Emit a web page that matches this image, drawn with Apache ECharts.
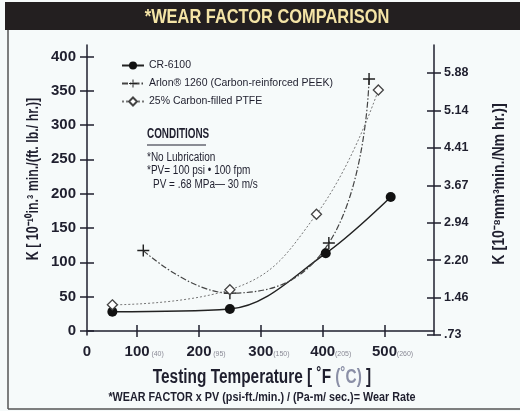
<!DOCTYPE html>
<html>
<head>
<meta charset="utf-8">
<script src="https://cdn.jsdelivr.net/npm/echarts@6/dist/echarts.min.js"></script>
<style>
  html, body { margin: 0; padding: 0; background: #f6fafa; }
  #chart { width: 520px; height: 411px; }
</style>
</head>
<body>
<div id="chart"></div>
<script>
// --- data ---
var crTemps = [60, 250, 405, 510];
var crK = [28, 32, 113, 195];
var arlonTemps = [110, 250, 410, 475];
var arlonK = [117, 55, 128, 367];
var ptfeTemps = [60, 250, 390, 490];
var ptfeK = [38, 60, 170, 351];

var seriesNames = ['CR-6100', 'Arlon® 1260 (Carbon-reinforced PEEK)', '25% Carbon-filled PTFE'];
var xTicks = [100, 200, 300, 400, 500];
var xCelsius = ['40', '95', '150', '205', '260'];
var yTicks = [0, 50, 100, 150, 200, 250, 300, 350, 400];
var rightTicks = [0.73, 1.46, 2.20, 2.94, 3.67, 4.41, 5.14, 5.88];
var rightLabels = ['.73', '1.46', '2.20', '2.94', '3.67', '4.41', '5.14', '5.88'];

var FONT = "'Liberation Sans', Arial, sans-serif";
var INK = '#1f1f2e';
var xMin = 19, xMax = 580;

function pairs(xs, ys) {
  return xs.map(function (x, i) { return [x, ys[i]]; });
}

var myChart = echarts.init(document.getElementById('chart'));

var axisLine = { show: true, lineStyle: { color: INK, width: 1.5 } };

function xLabel(v) {
  if (v === xMin) return '{n|0}';
  var i = xTicks.indexOf(v);
  return '{p|}{n|' + v + '}{c|(' + xCelsius[i] + ')}';
}

// condensed text via graphic scaleX (no condensed fonts installed)
function txt(x, y, s, font, opts) {
  opts = opts || {};
  return {
    type: 'text', x: x, y: y,
    rotation: opts.rotation || 0,
    scaleX: opts.scaleX || 0.82,
    style: {
      text: s, fill: opts.fill || INK, font: font,
      align: opts.align || 'left', verticalAlign: 'middle',
      rich: opts.rich
    }
  };
}

var option = {
  backgroundColor: '#f6fafa',
  animation: false,
  grid: { left: 87, right: 86, top: 45, bottom: 76 },
  legend: {
    orient: 'vertical',
    left: 116,
    top: 55,
    itemWidth: 22,
    itemHeight: 10,
    itemGap: 7,
    data: seriesNames,
    textStyle: { fontFamily: FONT, fontSize: 10.5, color: INK }
  },
  xAxis: [
    {
      type: 'value', min: xMin, max: xMax,
      axisLine: axisLine,
      axisTick: { show: true, length: 6, customValues: xTicks, lineStyle: { color: INK, width: 1.5 } },
      axisLabel: {
        customValues: [xMin].concat(xTicks),
        margin: 9,
        formatter: xLabel,
        rich: {
          p: { width: 16 },
          n: { fontFamily: FONT, fontSize: 15, fontWeight: 'bold', color: INK },
          c: { fontFamily: FONT, fontSize: 7, color: '#8a8a96', width: 16, align: 'left', padding: [5, 0, 0, 0] }
        }
      },
      splitLine: { show: false }
    },
    {
      type: 'value', min: xMin, max: xMax, position: 'bottom',
      axisLine: { show: false },
      axisTick: { show: true, inside: true, length: 6, customValues: xTicks, lineStyle: { color: INK, width: 1.5 } },
      axisLabel: { show: false },
      splitLine: { show: false }
    }
  ],
  yAxis: [
    {
      type: 'value', min: -6, max: 416.6, position: 'left',
      axisLine: axisLine,
      axisTick: { show: true, length: 7, customValues: yTicks, lineStyle: { color: INK, width: 1.5 } },
      axisLabel: {
        customValues: yTicks, margin: 11,
        fontFamily: FONT, fontSize: 15, fontWeight: 'bold', color: INK
      },
      splitLine: { show: false }
    },
    {
      type: 'value', min: -6, max: 416.6, position: 'left',
      axisLine: { show: false },
      axisTick: { show: true, inside: true, length: 7, customValues: yTicks, lineStyle: { color: INK, width: 1.5 } },
      axisLabel: { show: false },
      splitLine: { show: false }
    },
    {
      type: 'value', min: 0.73, max: 6.43, position: 'right',
      axisLine: axisLine,
      axisTick: { show: true, length: 7, customValues: rightTicks, lineStyle: { color: INK, width: 1.5 } },
      axisLabel: {
        customValues: rightTicks, margin: 10,
        fontFamily: FONT, fontSize: 12.5, fontWeight: 'bold', color: INK,
        formatter: function (v) {
          var i = rightTicks.indexOf(v);
          return i >= 0 ? rightLabels[i] : '';
        }
      },
      splitLine: { show: false }
    },
    {
      type: 'value', min: 0.73, max: 6.43, position: 'right',
      axisLine: { show: false },
      axisTick: { show: true, inside: true, length: 7, customValues: rightTicks, lineStyle: { color: INK, width: 1.5 } },
      axisLabel: { show: false },
      splitLine: { show: false }
    }
  ],
  graphic: [
    // frame + title bar
    { type: 'line', shape: { x1: 8, y1: 30, x2: 8, y2: 409 }, style: { stroke: '#555', lineWidth: 1.5 } },
    { type: 'line', shape: { x1: 8, y1: 409, x2: 520, y2: 409 }, style: { stroke: '#555', lineWidth: 1.5 } },
    { type: 'rect', shape: { x: 5, y: 2, width: 515, height: 28 }, style: { fill: '#231f20' } },
    txt(267, 17, '*WEAR FACTOR COMPARISON', 'bold 20px ' + FONT, { align: 'center', fill: '#f4e4a6', scaleX: 0.82 }),
    // axis names
    txt(34, 179, 'K [ 10⁻¹⁰in.³ min./(ft. lb./ hr.)]', 'bold 16px ' + FONT, { align: 'center', rotation: Math.PI / 2, scaleX: 0.78 }),
    txt(500, 184, 'K [10⁻⁸mm³min./Nm hr.)]', 'bold 16px ' + FONT, { align: 'center', rotation: Math.PI / 2, scaleX: 0.88 }),
    txt(262, 377, '{a|Testing Temperature [ ˚F }{b|(˚C)}{a| ]}', 'bold 20px ' + FONT, {
      align: 'center', scaleX: 0.77,
      rich: {
        a: { font: 'bold 20px ' + FONT, fill: INK },
        b: { font: 'bold 20px ' + FONT, fill: '#8a8fa6' }
      }
    }),
    txt(262, 398, '*WEAR FACTOR x PV (psi-ft./min.) / (Pa-m/ sec.)= Wear Rate', 'bold 12px ' + FONT, { align: 'center', scaleX: 0.9 }),
    // conditions block
    txt(147, 134, 'CONDITIONS', 'bold 15px ' + FONT, { scaleX: 0.66 }),
    { type: 'line', shape: { x1: 147, y1: 145, x2: 206, y2: 145 }, style: { stroke: INK, lineWidth: 1.2 } },
    txt(147, 158, '*No Lubrication', '12.5px ' + FONT, { scaleX: 0.8 }),
    txt(147, 171, '*PV= 100 psi • 100 fpm', '12.5px ' + FONT, { scaleX: 0.8 }),
    txt(153, 185, 'PV = .68 MPa— 30 m/s', '12.5px ' + FONT, { scaleX: 0.8 })
  ],
  series: [
    {
      name: seriesNames[0], type: 'line', xAxisIndex: 0, yAxisIndex: 0,
      data: pairs(crTemps, crK), smooth: 0.35,
      symbol: 'circle', symbolSize: 10,
      itemStyle: { color: '#111' },
      lineStyle: { color: '#222', width: 1.5 }
    },
    {
      name: seriesNames[1], type: 'line', xAxisIndex: 0, yAxisIndex: 0,
      data: pairs(arlonTemps, arlonK), smooth: 0.45,
      symbol: 'path://M4.4,0h1.2v10h-1.2zM0,4.4h10v1.2h-10z', symbolSize: 12,
      itemStyle: { color: '#222' },
      lineStyle: { color: '#444', width: 1.2, type: [6, 2, 1.5, 2] }
    },
    {
      name: seriesNames[2], type: 'line', xAxisIndex: 0, yAxisIndex: 0,
      data: pairs(ptfeTemps, ptfeK), smooth: 0.45,
      symbol: 'diamond', symbolSize: 10,
      itemStyle: { color: '#ffffff', borderColor: '#444', borderWidth: 1.3 },
      lineStyle: { color: '#777', width: 1, type: [2, 2] }
    }
  ]
};

myChart.setOption(option);
</script>
</body>
</html>
